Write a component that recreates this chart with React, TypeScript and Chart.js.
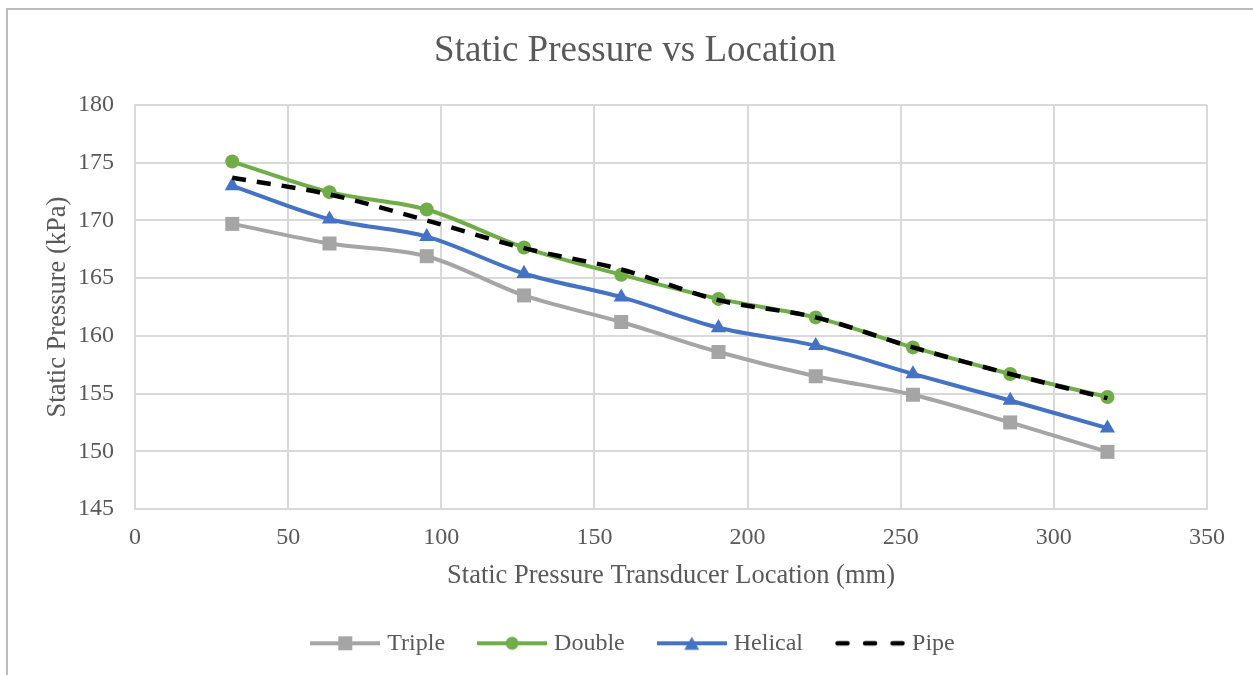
import React, { useEffect, useRef } from "react";
import { Chart, registerables } from "chart.js";

Chart.register(...registerables);

// ---- Data ----
const locations = [31.75, 63.5, 95.25, 127, 158.75, 190.5, 222.25, 254, 285.75, 317.5];
const triple = [169.7, 168.0, 166.9, 163.5, 161.2, 158.6, 156.5, 154.9, 152.5, 149.95];
const double = [175.1, 172.45, 170.95, 167.65, 165.3, 163.2, 161.6, 159.0, 156.7, 154.7];
const helical = [173.0, 170.1, 168.6, 165.4, 163.35, 160.7, 159.15, 156.7, 154.4, 152.0];
const pipe = [173.7, 172.25, 170.0, 167.6, 165.75, 163.1, 161.6, 159.0, 156.7, 154.6];

const seriesNames = ["Triple", "Double", "Helical", "Pipe"];
const seriesColors = ["#a5a5a5", "#70ad47", "#4472c4", "#000000"];

const titleText = "Static Pressure vs Location";
const xTitle = "Static Pressure Transducer Location (mm)";
const yTitle = "Static Pressure (kPa)";
const xMin = 0, xMax = 350, xStep = 50;
const yMin = 145, yMax = 180, yStep = 5;

const TEXT = "#595959";
const GRID = "#d9d9d9";
const SERIF = "'Liberation Serif', 'Times New Roman', serif";

function toPoints(ys: number[]) {
  return locations.map((x, i) => ({ x, y: ys[i] }));
}

function legendIcon(kind: string, color: string): HTMLCanvasElement {
  const c = document.createElement("canvas");
  c.width = 70;
  c.height = 18;
  const g = c.getContext("2d")!;
  const cy = 9;
  g.strokeStyle = color;
  g.fillStyle = color;
  if (kind === "dash") {
    g.lineWidth = 4.5;
    g.lineCap = "round";
    for (const sx of [0, 27.5, 55]) {
      g.beginPath();
      g.moveTo(sx + 2.5, cy);
      g.lineTo(sx + 12.5, cy);
      g.stroke();
    }
    return c;
  }
  g.lineWidth = 4;
  g.beginPath();
  g.moveTo(0, cy);
  g.lineTo(70, cy);
  g.stroke();
  if (kind === "rect") {
    g.fillRect(28, 2, 14, 14);
  } else if (kind === "circle") {
    g.beginPath();
    g.arc(35, cy, 6.5, 0, Math.PI * 2);
    g.fill();
  } else if (kind === "triangle") {
    g.beginPath();
    g.moveTo(35, 2.5);
    g.lineTo(27.5, 15.5);
    g.lineTo(42.5, 15.5);
    g.closePath();
    g.fill();
  }
  return c;
}

export default function App() {
  const ref = useRef<HTMLCanvasElement>(null);

  useEffect(() => {
    const canvas = ref.current!;
    const kinds = ["rect", "circle", "triangle", "dash"];
    const icons = kinds.map((k, i) => legendIcon(k, seriesColors[i]));

    const chart = new Chart(canvas, {
      type: "line",
      data: {
        datasets: [
          {
            label: seriesNames[0],
            data: toPoints(triple),
            borderColor: seriesColors[0],
            backgroundColor: seriesColors[0],
            borderWidth: 4,
            pointStyle: "rect",
            pointRadius: 9.9,
            pointBorderWidth: 0,
            pointBackgroundColor: seriesColors[0],
            tension: 0.33,
            order: 4,
          },
          {
            label: seriesNames[1],
            data: toPoints(double),
            borderColor: seriesColors[1],
            backgroundColor: seriesColors[1],
            borderWidth: 4,
            pointStyle: "circle",
            pointRadius: 7,
            pointBorderWidth: 0,
            pointBackgroundColor: seriesColors[1],
            tension: 0.33,
            order: 3,
          },
          {
            label: seriesNames[2],
            data: toPoints(helical),
            borderColor: seriesColors[2],
            backgroundColor: seriesColors[2],
            borderWidth: 4,
            pointStyle: "triangle",
            pointRadius: 8.7,
            pointBorderWidth: 0,
            pointBackgroundColor: seriesColors[2],
            tension: 0.33,
            order: 2,
          },
          {
            label: seriesNames[3],
            data: toPoints(pipe),
            borderColor: seriesColors[3],
            backgroundColor: seriesColors[3],
            borderWidth: 4.5,
            borderDash: [14, 11],
            pointRadius: 0,
            tension: 0.33,
            order: 1,
          },
        ],
      },
      options: {
        responsive: false,
        animation: false,
        devicePixelRatio: 1,
        layout: { padding: { left: 0, right: 0, top: 0, bottom: 9.7 } },
        plugins: {
          title: {
            display: true,
            text: titleText,
            color: TEXT,
            font: { family: SERIF, size: 37, weight: "normal" },
            padding: { top: 28.8, bottom: 31.8 },
          },
          legend: {
            position: "bottom",
            labels: {
              usePointStyle: true,
              pointStyleWidth: 60,
              padding: 37,
              color: TEXT,
              font: { family: SERIF, size: 24 },
              generateLabels: () =>
                seriesNames.map((name, i) => ({
                  text: name,
                  fillStyle: seriesColors[i],
                  strokeStyle: seriesColors[i],
                  fontColor: TEXT,
                  lineWidth: 0,
                  pointStyle: icons[i] as any,
                  hidden: false,
                  datasetIndex: i,
                })),
            },
          },
          tooltip: { enabled: false },
        },
        scales: {
          x: {
            type: "linear",
            min: xMin,
            max: xMax,
            ticks: {
              stepSize: xStep,
              padding: 14,
              color: TEXT,
              font: { family: SERIF, size: 24 },
            },
            grid: { color: GRID, lineWidth: 2, drawTicks: false },
            border: { color: GRID, width: 2 },
            title: {
              display: true,
              text: xTitle,
              color: TEXT,
              font: { family: SERIF, size: 26.5 },
              padding: { top: 0, bottom: 2.4 },
            },
            afterFit: (s: any) => {
              s.height = 85.3;
            },
          },
          y: {
            type: "linear",
            min: yMin,
            max: yMax,
            ticks: {
              stepSize: yStep,
              padding: 21,
              color: TEXT,
              font: { family: SERIF, size: 24 },
            },
            grid: { color: GRID, lineWidth: 2, drawTicks: false },
            border: { color: GRID, width: 2 },
            title: {
              display: true,
              text: yTitle,
              color: TEXT,
              font: { family: SERIF, size: 26.5 },
              padding: { top: 42, bottom: 0 },
            },
            afterFit: (s: any) => {
              s.width = 135;
            },
          },
          yRightSpacer: {
            type: "linear",
            position: "right",
            display: true,
            min: yMin,
            max: yMax,
            ticks: { display: false },
            grid: { display: false, drawTicks: false },
            border: { display: false },
            title: { display: false },
            afterFit: (s: any) => {
              s.width = 63;
            },
          },
        },
      } as any,
    });
    return () => chart.destroy();
  }, []);

  return (
    <div
      style={{
        position: "fixed",
        left: 0,
        top: 0,
        width: 1253,
        height: 675,
        overflow: "hidden",
        background: "#ffffff",
      }}
    >
      <canvas
        ref={ref}
        width={1270}
        height={675}
        style={{ position: "absolute", left: 0, top: 0, width: 1270, height: 675 }}
      />
      <div
        style={{
          position: "absolute",
          left: 6,
          top: 8,
          width: 1400,
          height: 800,
          borderLeft: "2px solid #bcbcbc",
          borderTop: "2px solid #bcbcbc",
          pointerEvents: "none",
        }}
      />
    </div>
  );
}
